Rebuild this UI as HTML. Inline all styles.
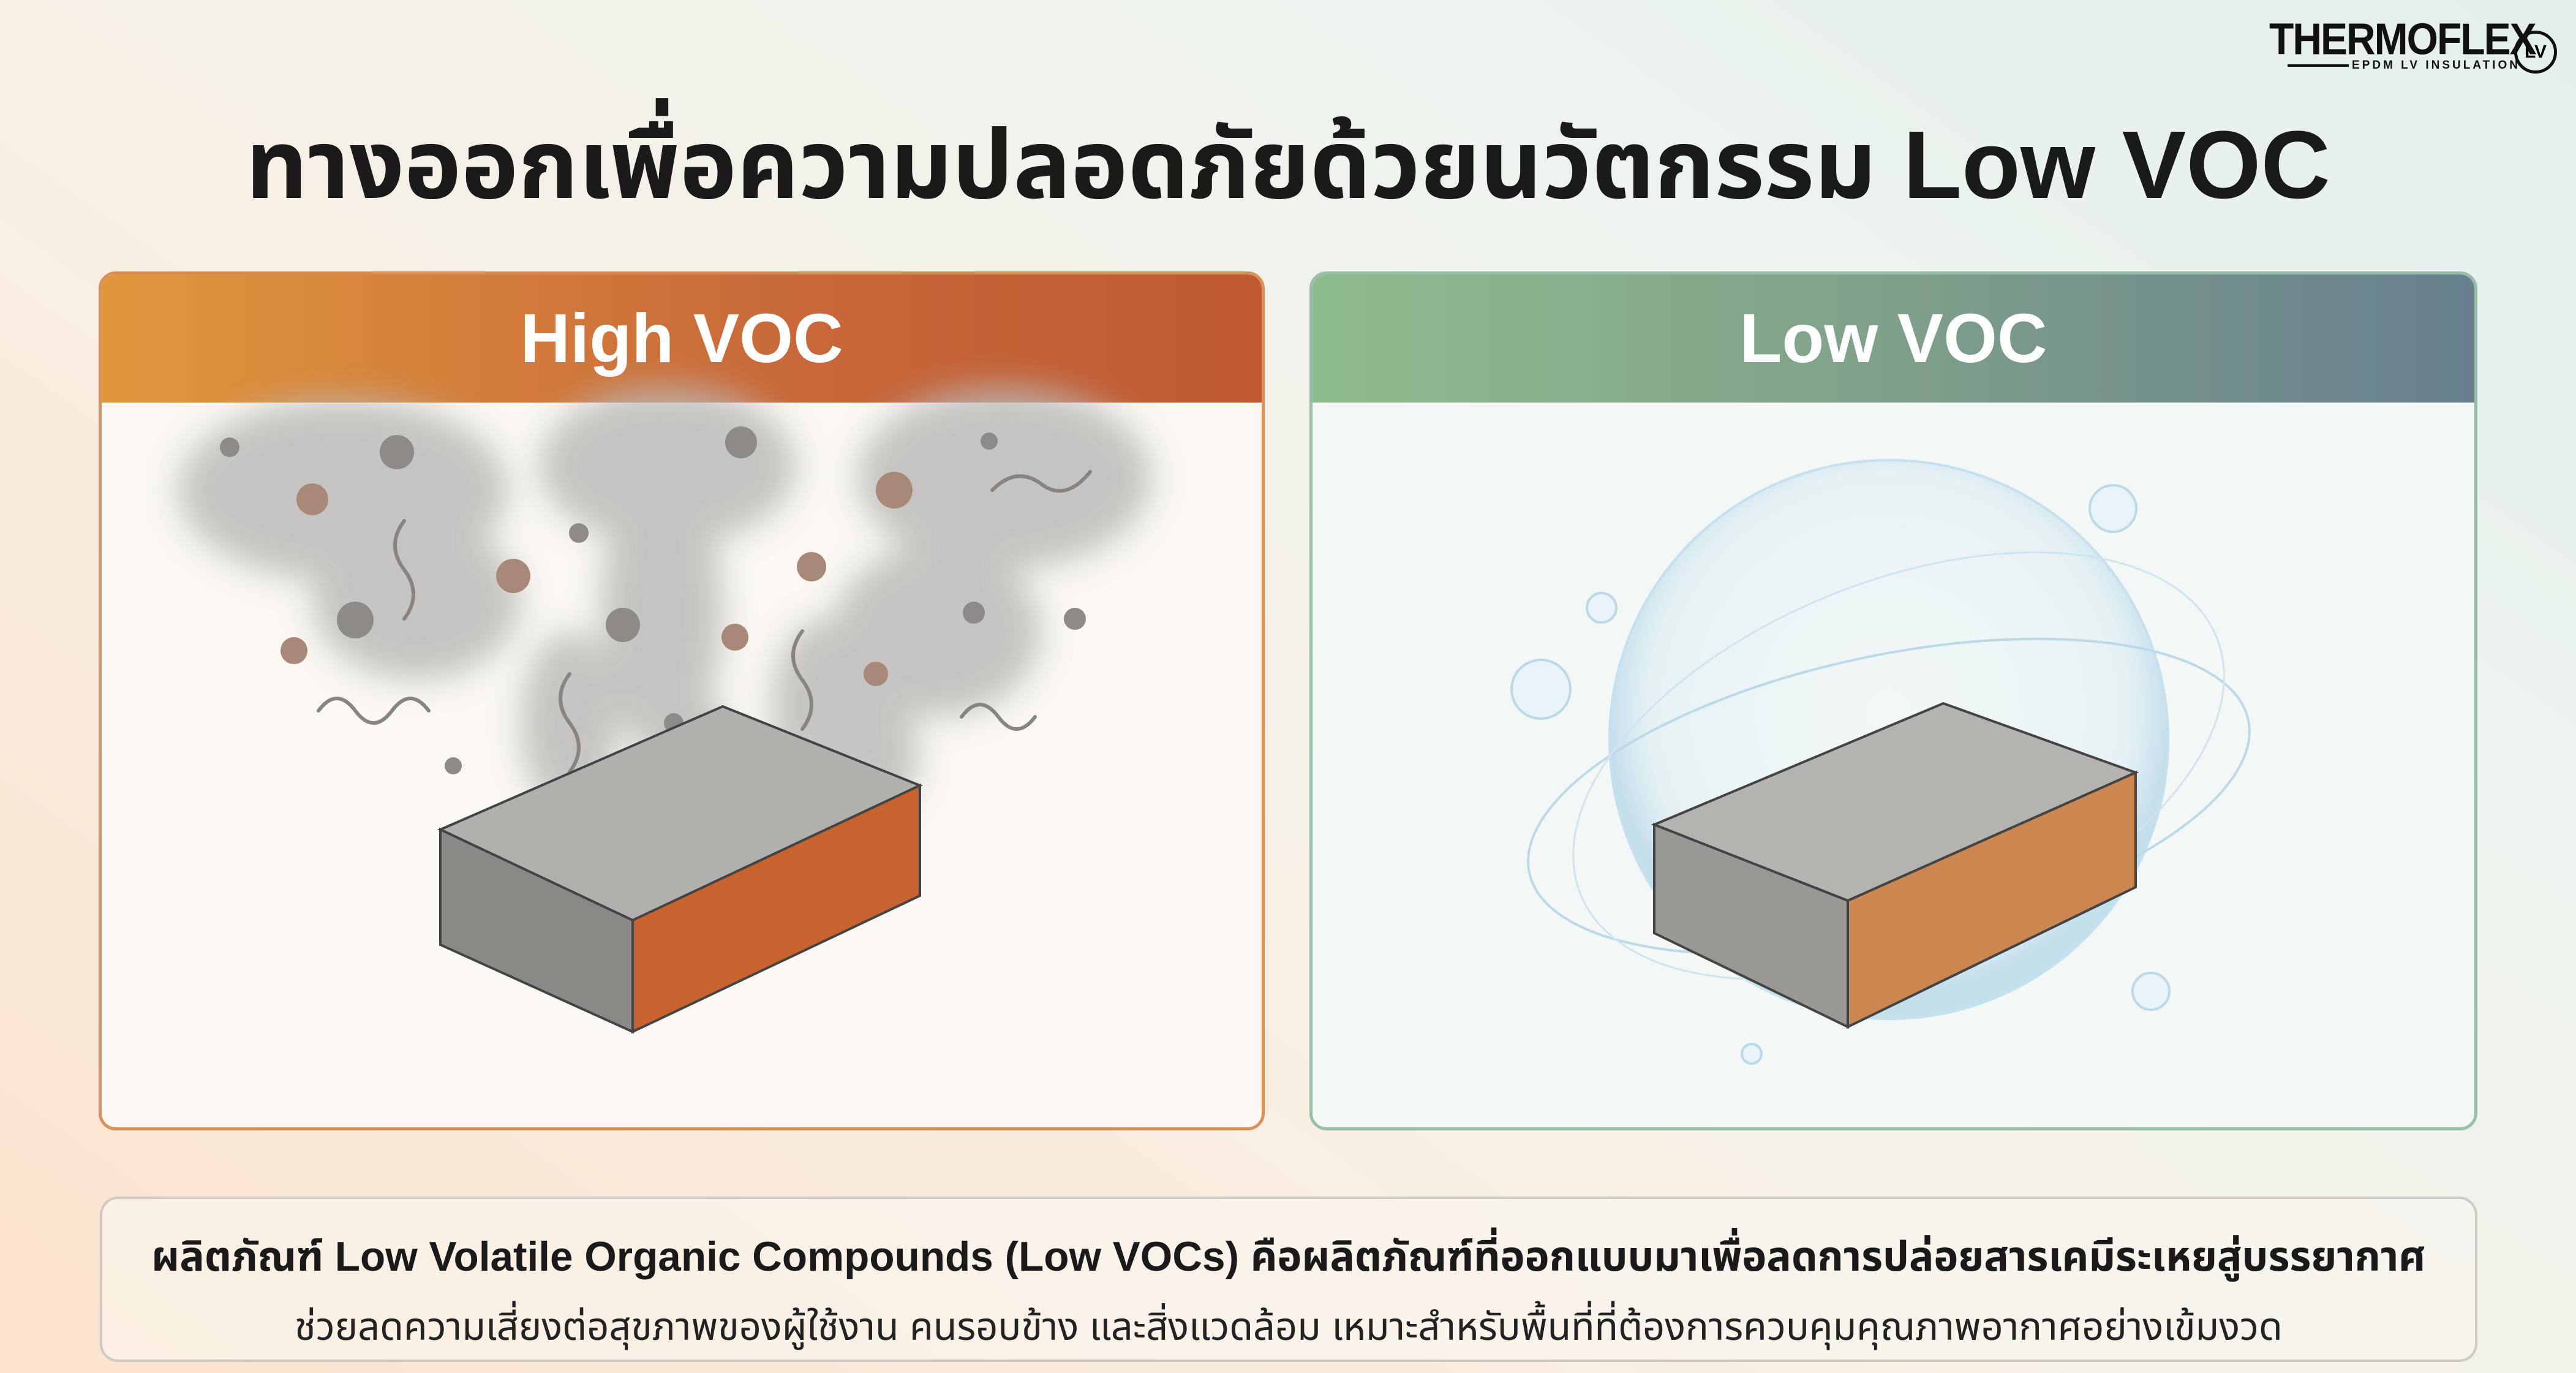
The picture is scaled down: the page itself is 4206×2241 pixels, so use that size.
<!DOCTYPE html>
<html><head><meta charset="utf-8"><style>
*{margin:0;padding:0;box-sizing:border-box}
body{width:4206px;height:2241px;overflow:hidden;position:relative;font-family:"Liberation Sans","Noto Sans Thai","Garuda","Loma","Tlwg Typo",sans-serif;
background:linear-gradient(35deg,#fbe3cb 0%,#f7efe4 40%,#eef3ee 70%,#e3efea 100%);}
.title{position:absolute;left:0;width:4206px;top:170px;text-align:center;font-size:157px;font-weight:bold;color:#1a1a1a;line-height:200px;white-space:nowrap}
.panel{position:absolute;top:443px;height:1402px;border-radius:28px;overflow:hidden}
.hdr{position:absolute;left:0;top:0;right:0;height:209px;color:#fff;font-size:113px;font-weight:bold;text-align:center;line-height:209px}
.box{position:absolute;left:163px;top:1953px;width:3882px;height:270px;border:4px solid #cfcac4;border-radius:30px;background:rgba(250,246,240,.6);text-align:center}
.l1{font-size:67.5px;font-weight:bold;color:#1a1a1a;margin-top:46px;white-space:nowrap}
.l2{font-size:63px;color:#222;margin-top:16px;white-space:nowrap}
</style></head><body>
<div class="title">ทางออกเพื่อความปลอดภัยด้วยนวัตกรรม Low VOC</div>

<div style="position:absolute;left:3705px;top:30px;width:480px;height:95px">
 <div style="font-family:'Liberation Sans',sans-serif;font-weight:bold;font-size:66px;line-height:66px;color:#111;letter-spacing:-2px;transform:scaleY(1.1)">THERMOFLEX</div>
 <div style="position:absolute;left:30px;top:75px;width:100px;height:4px;background:#111"></div>
 <div style="position:absolute;left:135px;top:66px;font-size:19px;font-weight:bold;letter-spacing:4px;color:#111">EPDM LV INSULATION</div>
 <div style="position:absolute;left:400px;top:20px;width:70px;height:70px;border:5px solid #111;border-radius:50%;font-size:30px;font-weight:bold;text-align:center;line-height:60px">LV</div>
</div>

<div class="panel" style="left:161px;width:1904px;border:5px solid #d9915a;background:#fbf8f3">
 <div class="hdr" style="background:linear-gradient(90deg,#e0973c,#c8683a 60%,#bf5a32)">High VOC</div>
</div>
<div class="panel" style="left:2138px;width:1907px;border:5px solid #98bfa8;background:#f3f8f6">
 <div class="hdr" style="background:linear-gradient(90deg,#8fbc8d,#7fa08a 50%,#66808f)">Low VOC</div>
</div>

<svg width="4206" height="2241" style="position:absolute;left:0;top:0">
<defs>
 <filter id="bl" x="-30%" y="-30%" width="160%" height="160%"><feGaussianBlur stdDeviation="26"/></filter>
 <radialGradient id="sp" cx="50%" cy="45%" r="50%"><stop offset="0" stop-color="#eef6fa" stop-opacity=".2"/><stop offset=".85" stop-color="#d8eaf3" stop-opacity=".5"/><stop offset="1" stop-color="#b9d9ea" stop-opacity=".8"/></radialGradient>
</defs>
<g filter="url(#bl)" fill="#b9b8b6" opacity=".8">
 <ellipse cx="560" cy="800" rx="270" ry="150"/>
 <ellipse cx="1090" cy="760" rx="210" ry="130"/>
 <ellipse cx="1640" cy="780" rx="240" ry="150"/>
 <ellipse cx="680" cy="980" rx="170" ry="130"/>
 <ellipse cx="1530" cy="1030" rx="170" ry="140"/>
 <ellipse cx="1080" cy="1000" rx="100" ry="230"/>
 <ellipse cx="930" cy="1180" rx="80" ry="150"/>
 <ellipse cx="1130" cy="1250" rx="70" ry="120"/>
 <ellipse cx="1350" cy="1150" rx="90" ry="140"/>
 <ellipse cx="1440" cy="1230" rx="60" ry="90"/>
</g>
<g fill="none" stroke="#8a8480" stroke-width="6" stroke-linecap="round">
 <path d="M520,1160 q30,-40 60,0 t60,0 t60,0"/>
 <path d="M930,1100 q-30,40 0,80 t0,80"/>
 <path d="M1310,1030 q-30,40 0,80 t0,80"/>
 <path d="M1570,1170 q30,-40 60,0 t60,0"/>
 <path d="M1620,800 q40,-40 80,-10 t80,-20"/>
 <path d="M660,850 q-30,40 0,80 t0,80"/>
</g>
<g fill="#8d8a88">
 <circle cx="375" cy="730" r="16"/><circle cx="648" cy="738" r="28"/><circle cx="510" cy="815" r="26" fill="#a88877"/><circle cx="580" cy="1012" r="30"/><circle cx="838" cy="940" r="28" fill="#a88877"/><circle cx="1017" cy="1020" r="28"/><circle cx="1210" cy="722" r="26"/><circle cx="1460" cy="800" r="30" fill="#a88877"/><circle cx="1325" cy="925" r="24" fill="#a88877"/><circle cx="480" cy="1062" r="22" fill="#a88877"/><circle cx="1200" cy="1040" r="22" fill="#a88877"/><circle cx="1590" cy="1000" r="18"/><circle cx="1755" cy="1010" r="18"/><circle cx="945" cy="870" r="16"/><circle cx="1100" cy="1180" r="16"/><circle cx="740" cy="1250" r="14"/><circle cx="1430" cy="1100" r="20" fill="#a88877"/><circle cx="1615" cy="720" r="14"/>
</g>
<polygon points="719,1354 1180,1153 1502,1282 1033,1502" fill="#b2b0ac" stroke="#444" stroke-width="4"/>
<polygon points="719,1354 1033,1502 1033,1684 719,1542" fill="#8b8986" stroke="#444" stroke-width="4"/>
<polygon points="1033,1502 1502,1282 1502,1462 1033,1684" fill="#c8622e" stroke="#444" stroke-width="4"/>
<circle cx="3084" cy="1207" r="456" fill="url(#sp)" stroke="#c5e0ee" stroke-width="4"/>
<ellipse cx="3084" cy="1300" rx="600" ry="230" fill="none" stroke="#bcd9e8" stroke-width="4" transform="rotate(-12 3084 1300)"/>
<ellipse cx="3100" cy="1250" rx="560" ry="300" fill="none" stroke="#cfe4ee" stroke-width="3" transform="rotate(-22 3100 1250)"/>
<g fill="#e8f3f8" stroke="#bcd9e8" stroke-width="4"><circle cx="2516" cy="1125" r="48"/><circle cx="3450" cy="830" r="38"/><circle cx="2615" cy="992" r="24"/><circle cx="3512" cy="1618" r="30"/><circle cx="2860" cy="1720" r="16"/></g>
<polygon points="2701,1346 3173,1148 3487,1261 3017,1470" fill="#b4b3b0" stroke="#444" stroke-width="4"/>
<polygon points="2701,1346 3017,1470 3017,1676 2701,1523" fill="#9a9895" stroke="#444" stroke-width="4"/>
<polygon points="3017,1470 3487,1261 3487,1448 3017,1676" fill="#cc8650" stroke="#444" stroke-width="4"/>
</svg>

<div class="box">
 <div class="l1">ผลิตภัณฑ์ Low Volatile Organic Compounds (Low VOCs) คือผลิตภัณฑ์ที่ออกแบบมาเพื่อลดการปล่อยสารเคมีระเหยสู่บรรยากาศ</div>
 <div class="l2">ช่วยลดความเสี่ยงต่อสุขภาพของผู้ใช้งาน คนรอบข้าง และสิ่งแวดล้อม เหมาะสำหรับพื้นที่ที่ต้องการควบคุมคุณภาพอากาศอย่างเข้มงวด</div>
</div>
</body></html>
